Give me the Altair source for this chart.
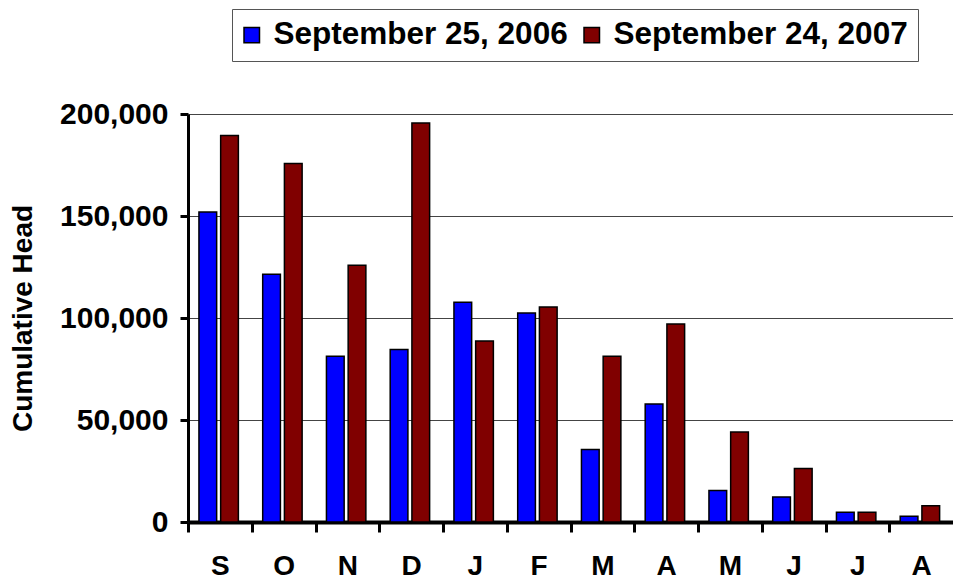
import altair as alt
import pandas as pd

months = ["Sep", "Oct", "Nov", "Dec", "Jan", "Feb", "Mar", "Apr", "May", "Jun", "Jul", "Aug"]
series_names = ["September 25, 2006", "September 24, 2007"]
values_2006 = [152000, 121500, 81200, 84500, 107700, 102500, 35600, 57800, 15500, 12300, 4800, 2800]
values_2007 = [189500, 175700, 125800, 195600, 88700, 105400, 81200, 97000, 44100, 26200, 4800, 8000]
colors = ["#0000FF", "#800000"]

rows = []
for m, a, b in zip(months, values_2006, values_2007):
    rows.append({"month": m, "series": series_names[0], "head": a})
    rows.append({"month": m, "series": series_names[1], "head": b})
df = pd.DataFrame(rows)

W = 765
H = 408
step = W / len(months)
FONT = "Liberation Sans, Arial, Helvetica, sans-serif"

chart = alt.Chart(df).mark_bar(stroke="black", strokeWidth=1.5).encode(
    x=alt.X(
        "month:N",
        sort=months,
        scale=alt.Scale(paddingInner=0, paddingOuter=0),
        axis=alt.Axis(
            title=None,
            labelExpr="substring(datum.label, 0, 1)",
            tickOffset=-step / 2,
            labelOffset=step / 2,
            labelAngle=0,
            labelFont=FONT,
            labelFontSize=28,
            labelFontWeight="bold",
            labelColor="black",
            labelPadding=20,
            tickSize=10,
            tickWidth=3,
            tickColor="black",
            domainColor="black",
            domainWidth=4,
            grid=False,
        ),
    ),
    xOffset=alt.XOffset(
        "series:N",
        sort=series_names,
        scale=alt.Scale(paddingInner=0.184, paddingOuter=0.56, align=0.45),
    ),
    y=alt.Y(
        "head:Q",
        scale=alt.Scale(domain=[0, 200000], nice=False),
        axis=alt.Axis(
            title="Cumulative Head",
            titleFont=FONT,
            titleFontSize=28,
            titleFontWeight="bold",
            titleColor="black",
            titlePadding=22,
            values=[0, 50000, 100000, 150000, 200000],
            format=",d",
            labelFont=FONT,
            labelFontSize=30,
            labelFontWeight="bold",
            labelColor="black",
            labelPadding=12,
            tickSize=8,
            tickWidth=3,
            tickColor="black",
            domainColor="black",
            domainWidth=3,
            grid=True,
            gridColor="#444444",
            gridWidth=1.2,
        ),
    ),
    color=alt.Color(
        "series:N",
        sort=series_names,
        scale=alt.Scale(domain=series_names, range=colors),
        legend=alt.Legend(
            title=None,
            orient="none",
            direction="horizontal",
            legendX=44,
            legendY=-105,
            symbolType="square",
            symbolSize=240,
            symbolStrokeColor="black",
            symbolStrokeWidth=1.5,
            symbolOpacity=1,
            symbolOffset=-6,
            labelFont=FONT,
            labelFontSize=31.5,
            labelFontWeight="bold",
            labelColor="black",
            labelLimit=0,
            labelOffset=6,
            columnPadding=13,
            padding=10,
            strokeColor="#555555",
            fillColor="white",
        ),
    ),
).properties(
    width=W,
    height=H,
    padding={"left": 1, "top": 0, "right": 0, "bottom": 0},
).configure_view(stroke=None)

chart.save("out.html", embed_options={"renderer": "svg", "actions": False})
